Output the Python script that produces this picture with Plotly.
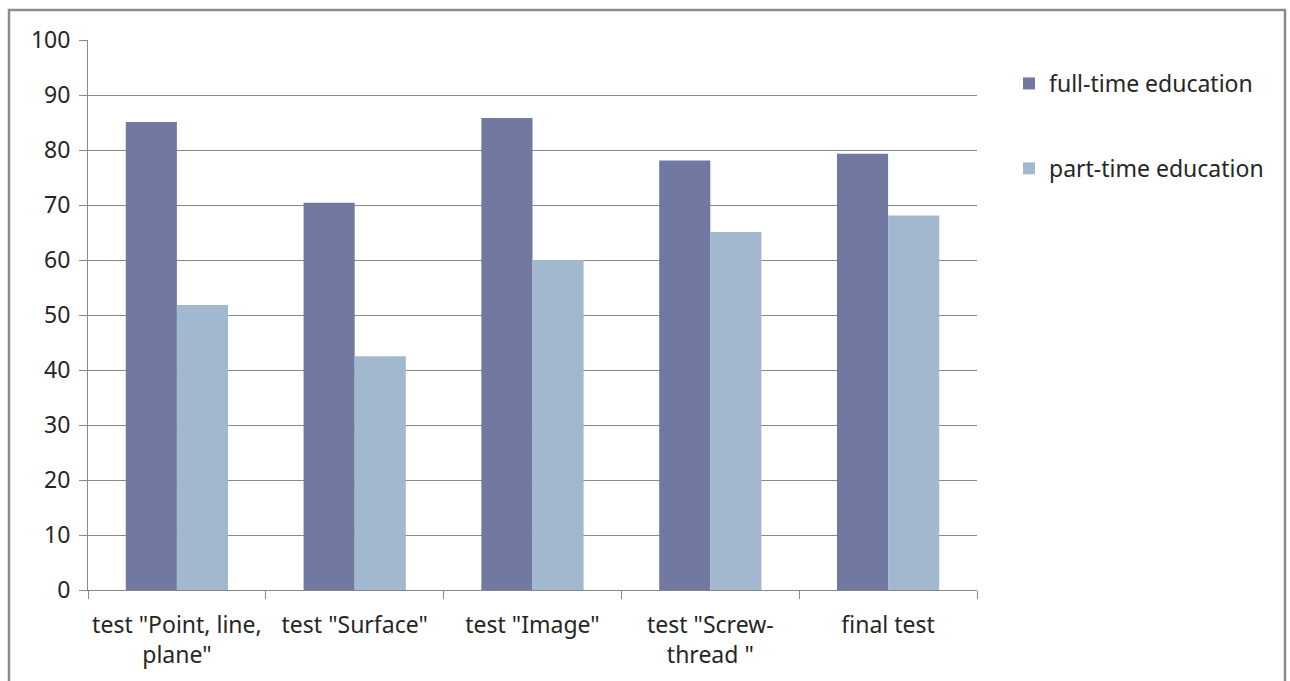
import plotly.graph_objects as go

categories = ['test "Point, line,<br>plane"', 'test "Surface"', 'test "Image"',
              'test "Screw-<br>thread "', 'final test']
full_time = [85.1, 70.4, 85.8, 78.1, 79.3]
part_time = [51.8, 42.5, 60.0, 65.1, 68.1]
y_ticks = [0, 10, 20, 30, 40, 50, 60, 70, 80, 90, 100]

W, H = 1290, 681
L, R, T, B = 88, 977, 40, 590
pw, ph = R - L, B - T

fig = go.Figure()
fig.add_trace(go.Bar(name="full-time education", x=categories, y=full_time,
                     marker=dict(color="#7179A1", line=dict(width=0)),
                     legendgroup="a"))
fig.add_trace(go.Bar(name="part-time education", x=categories, y=part_time,
                     marker=dict(color="#A2B8CF", line=dict(width=0)),
                     legendgroup="b"))

font = "'Noto Sans', 'Open Sans', sans-serif"
fig.update_layout(
    width=W, height=H,
    margin=dict(l=L, r=W - R, t=T, b=H - B, pad=0, autoexpand=False),
    paper_bgcolor="white", plot_bgcolor="white",
    barmode="group", bargap=0.425, bargroupgap=0,
    font=dict(family=font, size=23, color="#262626"),
    legend=dict(x=1.036, y=0.96, xanchor="left", yanchor="top",
                traceorder="grouped", tracegroupgap=52,
                font=dict(size=23, color="#262626"), itemwidth=30),
    showlegend=True,
)
fig.update_yaxes(range=[0, 100], tickvals=y_ticks, showgrid=True,
                 gridcolor="#888888", gridwidth=1, showline=True,
                 linecolor="#888888", linewidth=1, ticks="outside",
                 ticklen=8, tickcolor="#888888", ticklabelstandoff=4,
                 zeroline=False, fixedrange=True, automargin=False)
fig.update_xaxes(showline=True, linecolor="#888888", linewidth=1,
                 ticks="outside", tickson="boundaries", ticklen=8,
                 tickcolor="#888888", showgrid=False, tickangle=0,
                 ticklabelstandoff=14, automargin=False, fixedrange=True)

# outer chart-area border
fig.add_shape(type="rect", xref="paper", yref="paper",
              x0=(9 - L) / pw, x1=(1285 - L) / pw,
              y0=(B - 700) / ph, y1=(B - 10) / ph,
              line=dict(color="#8c8c8c", width=2.5), layer="below")

fig.write_html("out.html", config={"displayModeBar": False},
               post_script="document.body.style.margin='0';document.body.style.overflow='hidden';")
